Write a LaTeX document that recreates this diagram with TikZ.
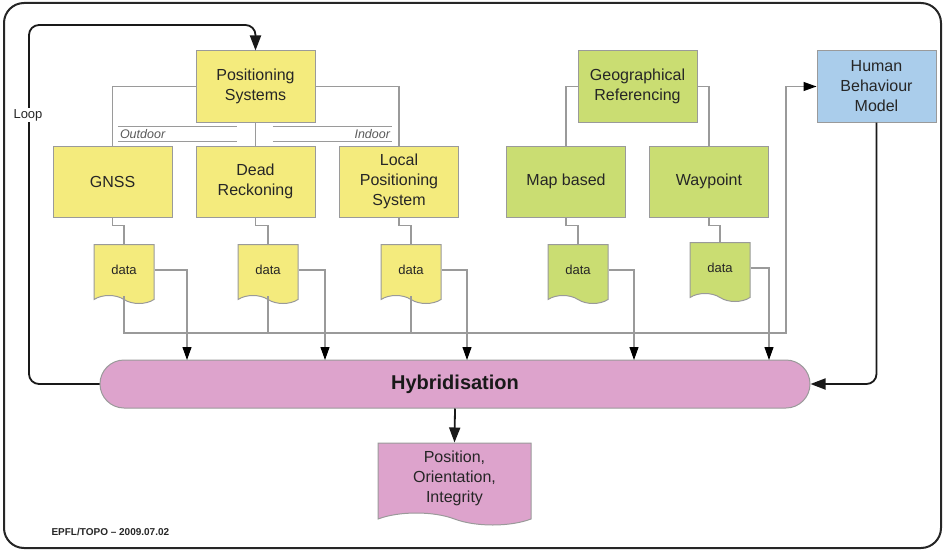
\documentclass[tikz,border=0pt]{standalone}
\usepackage{fontspec}
\setmainfont{Liberation Sans}
\usetikzlibrary{arrows.meta,shapes.symbols,positioning}
\definecolor{sysyellow}{HTML}{F4EB7D}
\definecolor{geogreen}{HTML}{CADD72}
\definecolor{humanblue}{HTML}{AACDEB}
\definecolor{hybpink}{HTML}{DDA3CC}
\definecolor{linegray}{HTML}{9A9A9A}
\begin{document}
\begin{tikzpicture}[x=1pt, y=-1pt,
box/.style={rectangle, draw=linegray, line width=1pt, minimum width=119pt, minimum height=71pt, align=center, font=\fontsize{16}{20}\selectfont, text=black!85},
system/.style={box, fill=sysyellow},
georef/.style={box, fill=geogreen},
human/.style={box, fill=humanblue},
datadoc/.style={tape, tape bend top=none, tape bend bottom=out and in, tape bend height=8pt, draw=linegray, line width=1pt, minimum width=60pt, minimum height=59pt, inner sep=0pt, font=\fontsize{13}{15}\selectfont, text=black!85},
sepline/.style={minimum width=119pt, minimum height=14pt, inner sep=2pt, text width=115pt, font=\fontsize{12.5}{14}\selectfont\itshape, text=black!65},
conn/.style={draw=linegray, line width=1.1pt},
arr/.style={conn, -{Triangle[length=13pt, width=9pt, color=black]}},
loopline/.style={draw=black!90, line width=1.8pt, rounded corners=10pt, -{Triangle[length=15pt, width=11pt]}},
]
\useasboundingbox (0,0) rectangle (945,551);
\draw[line width=2pt, black!85, rounded corners=20pt] (4,3) rectangle (941,548);

% positioning systems
\node[system] (ps) at (255.5,86.5) {Positioning\\Systems};
\node[system] (gnss) at (112.5,181.5) {GNSS};
\node[system] (dr) at (255.5,181.5) {Dead\\Reckoning};
\node[system] (lps) at (399,181.5) {Local\\Positioning\\System};
\node[sepline, align=left] (outdoor) at (177.5,134) {Outdoor};
\node[sepline, align=right] (indoor) at (332.5,134) {Indoor};

% geographical referencing
\node[georef] (geo) at (637.5,86.5) {Geographical\\Referencing};
\node[georef] (map) at (566,181.5) {Map based};
\node[georef] (way) at (709,181.5) {Waypoint};

\node[human] (hbm) at (876.5,86.5) {Human\\Behaviour\\Model};

% data
\node[datadoc, fill=sysyellow] (gnssdata) at (124,270) {data};
\node[datadoc, fill=sysyellow] (drdata) at (268,270) {data};
\node[datadoc, fill=sysyellow] (lpsdata) at (411,270) {data};
\node[datadoc, fill=geogreen] (mapdata) at (578,270) {data};
\node[datadoc, fill=geogreen] (waydata) at (720,268) {data};

\node[rectangle, rounded corners=24pt, draw=linegray, line width=1pt, fill=hybpink, minimum width=710pt, minimum height=48pt, font=\fontsize{20}{24}\selectfont\bfseries, text=black!90] (hyb) at (455,384) {Hybridisation};
\node[tape, tape bend top=none, tape bend bottom=out and in, tape bend height=12pt, draw=linegray, line width=1pt, fill=hybpink, minimum width=153pt, minimum height=82pt, align=center, font=\fontsize{16}{20}\selectfont, text=black!85] (out) at (454.5,478) {Position,\\Orientation,\\Integrity};

\node[font=\fontsize{10}{12}\selectfont\bfseries, text=black!85, anchor=west] (stamp) at (48,532) {EPFL/TOPO -- 2009.07.02};

\coordinate (in1) at (187,360);
\coordinate (in2) at (325,360);
\coordinate (in3) at (467,360);
\coordinate (in4) at (634,360);
\coordinate (in5) at (769,360);
\coordinate (busR) at (786,333);
\coordinate (loopc) at (29,25);

% tree lines
\draw[conn] (ps.west) -| (gnss.north);
\draw[conn] (ps.east) -| (lps.north);
\draw[conn] (ps.south) -- (dr.north);
\draw[conn] (geo.west) -| (map.north);
\draw[conn] (geo.east) -| (way.north);
\draw[conn] (outdoor.north west) -- (outdoor.north east) (outdoor.south west) -- (outdoor.south east);
\draw[conn] (indoor.north west) -- (indoor.north east) (indoor.south west) -- (indoor.south east);

% to data
\draw[conn] (gnss.south) -- ++(0,8) -| (gnssdata.north);
\draw[conn] (dr.south) -- ++(0,8) -| (drdata.north);
\draw[conn] (lps.south) -- ++(0,8) -| (lpsdata.north);
\draw[conn] (map.south) -- ++(0,8) -| (mapdata.north);
\draw[conn] (way.south) -- ++(0,8) -| (waydata.north);

% into hybridisation
\draw[arr] (gnssdata.east) -| (in1);
\draw[arr] (drdata.east) -| (in2);
\draw[arr] (lpsdata.east) -| (in3);
\draw[arr] (mapdata.east) -| (in4);
\draw[arr] (waydata.east) -| (in5);

% bus to human model
\draw[arr] (gnssdata.south) |- (busR) |- (hbm.west);
\draw[conn] (drdata.south) -- (drdata.south |- busR);
\draw[conn] (lpsdata.south) -- (lpsdata.south |- busR);

% loop
\draw[loopline] (hyb.west) -| (loopc) -| (ps.north);
\node[fill=white, inner sep=1pt, font=\fontsize{13}{15}\selectfont, text=black!85] (loop) at (28,115) {Loop};
\draw[loopline] (hbm.south) |- (hyb.east);
\draw[loopline] (hyb.south) -- (out.north);
\end{tikzpicture}
\end{document}
